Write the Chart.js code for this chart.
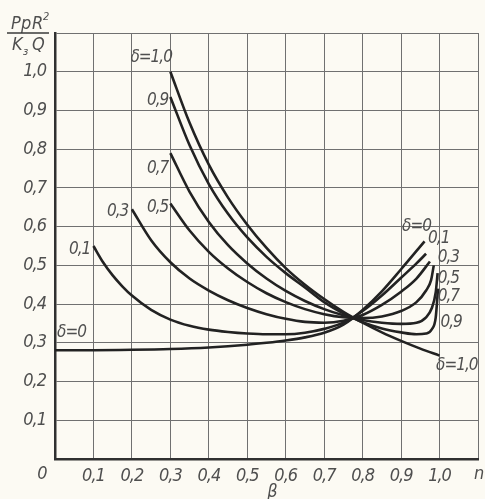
<!DOCTYPE html>
<html>
<head>
<meta charset="utf-8">
<script src="https://cdn.jsdelivr.net/npm/chart.js@4.4.1/dist/chart.umd.min.js"></script>
<style>
  html, body { margin: 0; padding: 0; background: #fcfaf3; }
  #wrap { width: 485px; height: 499px; }
</style>
</head>
<body>
<div id="wrap"><canvas id="myChart"></canvas></div>
<script>
// curve values, one pair of arrays per delta
const beta_d0 = [0, 0.1, 0.2, 0.3, 0.4, 0.5, 0.55, 0.6, 0.65, 0.7, 0.75, 0.8, 0.85, 0.9, 0.961];
const p_d0    = [0.281, 0.281, 0.282, 0.284, 0.288, 0.295, 0.3, 0.306, 0.314, 0.326, 0.347, 0.385, 0.433, 0.49, 0.562];

const beta_d01 = [0.1, 0.125, 0.15, 0.175, 0.2, 0.25, 0.3, 0.35, 0.4, 0.45, 0.5, 0.55, 0.6, 0.65, 0.7, 0.75, 0.8, 0.85, 0.9, 0.94, 0.965];
const p_d01    = [0.55, 0.508, 0.474, 0.446, 0.422, 0.385, 0.36, 0.344, 0.334, 0.328, 0.324, 0.322, 0.322, 0.326, 0.336, 0.352, 0.382, 0.422, 0.468, 0.505, 0.53];

const beta_d03 = [0.2, 0.25, 0.3, 0.35, 0.4, 0.45, 0.5, 0.55, 0.6, 0.65, 0.7, 0.75, 0.8, 0.85, 0.9, 0.94, 0.975];
const p_d03    = [0.645, 0.565, 0.508, 0.466, 0.435, 0.41, 0.39, 0.374, 0.362, 0.354, 0.352, 0.357, 0.372, 0.398, 0.432, 0.466, 0.51];

const beta_d05 = [0.3, 0.35, 0.4, 0.45, 0.5, 0.55, 0.6, 0.65, 0.7, 0.75, 0.8, 0.85, 0.9, 0.94, 0.965, 0.978, 0.985];
const p_d05    = [0.66, 0.59, 0.535, 0.492, 0.457, 0.428, 0.405, 0.387, 0.374, 0.366, 0.364, 0.368, 0.382, 0.405, 0.435, 0.462, 0.5];

const beta_d07 = [0.3, 0.35, 0.4, 0.45, 0.5, 0.55, 0.6, 0.65, 0.7, 0.75, 0.8, 0.85, 0.9, 0.94, 0.965, 0.98, 0.99, 0.995];
const p_d07    = [0.79, 0.69, 0.612, 0.552, 0.505, 0.466, 0.434, 0.408, 0.387, 0.371, 0.359, 0.352, 0.349, 0.352, 0.366, 0.39, 0.43, 0.48];

const beta_d09 = [0.3, 0.35, 0.4, 0.45, 0.5, 0.55, 0.6, 0.65, 0.7, 0.75, 0.8, 0.85, 0.9, 0.94, 0.965, 0.98, 0.99, 0.996];
const p_d09    = [0.935, 0.81, 0.71, 0.633, 0.572, 0.522, 0.48, 0.443, 0.405, 0.376, 0.353, 0.337, 0.327, 0.322, 0.324, 0.335, 0.365, 0.44];

const beta_d10 = [0.3, 0.35, 0.4, 0.45, 0.5, 0.55, 0.6, 0.65, 0.7, 0.75, 0.8, 0.85, 0.9, 0.95, 1.0];
const p_d10    = [1.0, 0.868, 0.76, 0.675, 0.605, 0.545, 0.493, 0.45, 0.413, 0.38, 0.352, 0.327, 0.305, 0.285, 0.267];

const series = [
  [beta_d0, p_d0], [beta_d01, p_d01], [beta_d03, p_d03], [beta_d05, p_d05],
  [beta_d07, p_d07], [beta_d09, p_d09], [beta_d10, p_d10]
];

// tick labels
const xTickLabels = ['', '0,1', '0,2', '0,3', '0,4', '0,5', '0,6', '0,7', '0,8', '0,9', '1,0', ''];
const yTickLabels = ['', '0,1', '0,2', '0,3', '0,4', '0,5', '0,6', '0,7', '0,8', '0,9', '1,0', ''];

// curve captions, placed in data units
const curveLabels = [
  ['δ=1,0', 0.25, 1.036], ['0,9', 0.267, 0.925], ['0,7', 0.267, 0.75], ['0,5', 0.267, 0.65],
  ['0,3', 0.163, 0.64], ['0,1', 0.064, 0.54], ['δ=0', 0.043, 0.327],
  ['δ=0', 0.94, 0.60], ['0,1', 0.998, 0.57], ['0,3', 1.023, 0.52], ['0,5', 1.023, 0.465],
  ['0,7', 1.023, 0.42], ['0,9', 1.03, 0.353], ['δ=1,0', 1.045, 0.24]
];

const FONT = "'DejaVu Sans Condensed', 'DejaVu Sans', sans-serif";
const INK = '#4f4f4f';

const datasets = series.map(([xs, ys]) => ({
  data: xs.map((x, i) => ({ x: x, y: ys[i] })),
  borderColor: '#222222',
  borderWidth: 2.6,
  pointRadius: 0,
  fill: false,
  cubicInterpolationMode: 'monotone'
}));

const paper = {
  id: 'paper',
  beforeDraw(chart) {
    const c = chart.ctx;
    c.fillStyle = '#fcfaf3';
    c.fillRect(0, 0, chart.width, chart.height);
    // drafting lettering is tight
    c.letterSpacing = '-1px';
  }
};

const texts = {
  id: 'texts',
  afterDraw(chart) {
    const c = chart.ctx;
    const xs = chart.scales.x, ys = chart.scales.y;
    c.save();
    c.letterSpacing = '-1px';
    c.fillStyle = INK;
    c.textAlign = 'center';
    c.textBaseline = 'middle';
    c.font = 'italic 17px ' + FONT;
    curveLabels.forEach(([t, x, y]) => {
      c.fillText(t, xs.getPixelForValue(x), ys.getPixelForValue(y));
    });

    // corner zero and right end letter
    c.font = 'italic 18px ' + FONT;
    c.fillText('0', 42, 474);
    c.textAlign = 'left';
    c.fillText('n', 474, 474);

    // axis title under x
    c.textAlign = 'center';
    c.textBaseline = 'alphabetic';
    c.fillText('β', 272, 497);

    // fraction title of y
    c.textAlign = 'left';
    c.font = 'italic 18px ' + FONT;
    c.fillText('P', 11, 29);
    c.fillText('p', 21, 29);
    c.fillText('R', 32, 29);
    c.font = 'italic 11px ' + FONT;
    c.fillText('2', 43, 20);
    c.font = 'italic 18px ' + FONT;
    c.fillText('K', 12, 50);
    c.fillText('Q', 32, 50);
    c.font = 'italic 11px ' + FONT;
    c.fillText('з', 23, 55);
    c.strokeStyle = '#3a3a3a';
    c.lineWidth = 1.5;
    c.beginPath();
    c.moveTo(7, 33);
    c.lineTo(49, 33);
    c.stroke();
    c.restore();
  }
};

const idx = v => Math.round(v * 10);

const myChart = new Chart(document.getElementById('myChart'), {
  type: 'line',
  data: { datasets: datasets },
  plugins: [paper, texts],
  options: {
    responsive: true,
    maintainAspectRatio: false,
    animation: false,
    layout: { padding: { top: 33, right: 0, left: 0, bottom: 0 } },
    plugins: { legend: { display: false }, tooltip: { enabled: false } },
    scales: {
      x: {
        type: 'linear',
        min: 0, max: 1.1,
        afterFit(s) { s.height = 40; },
        grid: { color: '#707070', lineWidth: 1, drawTicks: false },
        border: { display: true, color: '#303030', width: 2.5 },
        ticks: {
          stepSize: 0.1,
          padding: 7,
          color: INK,
          maxRotation: 0,
          autoSkip: false,
          font: { family: FONT, size: 18, style: 'italic' },
          callback: v => xTickLabels[idx(v)]
        }
      },
      y: {
        min: 0, max: 1.1,
        afterFit(s) { s.width = 55; },
        grid: { color: '#707070', lineWidth: 1, drawTicks: false },
        border: { display: true, color: '#303030', width: 2.5 },
        ticks: {
          stepSize: 0.1,
          padding: 9,
          color: INK,
          autoSkip: false,
          font: { family: FONT, size: 18, style: 'italic' },
          callback: v => yTickLabels[idx(v)]
        }
      }
    }
  }
});
</script>
</body>
</html>
